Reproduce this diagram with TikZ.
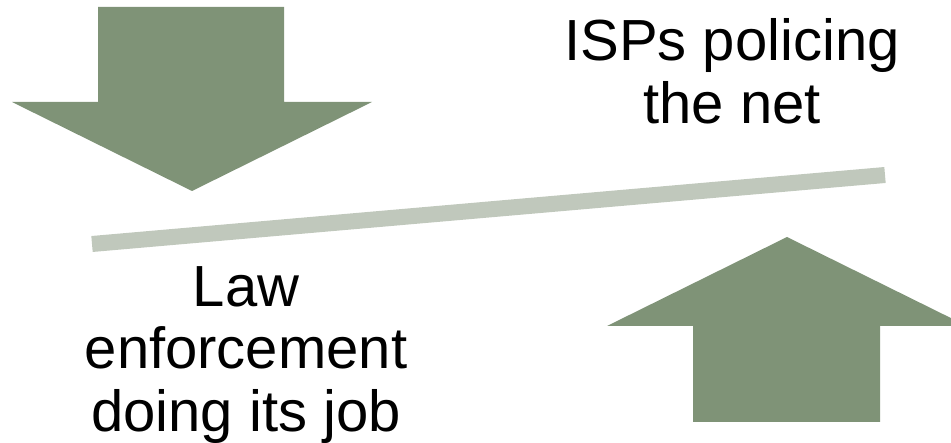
\documentclass[tikz,border=0pt]{standalone}
\usepackage{fontspec}
\setmainfont{Liberation Sans}
\usetikzlibrary{positioning}

\definecolor{arrowgreen}{HTML}{7F9377}
\definecolor{beamgray}{HTML}{C0C8BC}

\begin{document}
\begin{tikzpicture}[x=1pt, y=-1pt, outer sep=0,
        bigarrow/.style={fill=arrowgreen, draw=none},
        caption/.style={align=center, inner sep=0, font=\fontsize{58}{63}\selectfont}]
        \clip (0,0) rectangle (951,443);
        % pressure from above
        \fill[bigarrow] (98,7) -- (284,7) -- (284,102) -- (372,102) -- (192,191) -- (12,102) -- (98,102) -- cycle;
        % pressure from below
        \fill[bigarrow] (787,237) -- (967,326) -- (880,326) -- (880,422) -- (693,422) -- (693,326) -- (607,326) -- cycle;
        % the tilted beam
        \coordinate (beamL) at (92,244);
        \coordinate (beamR) at (885,175);
        \draw[beamgray, line width=16pt] (beamL) -- (beamR);
        % base anchor sits on the last line
        \node [caption, anchor=base] (isp) at (732,124) {ISPs policing\\the net};
        \node [caption, anchor=base] (law) at (246,432) {Law\\enforcement\\doing its job};
    \end{tikzpicture}
\end{document}
